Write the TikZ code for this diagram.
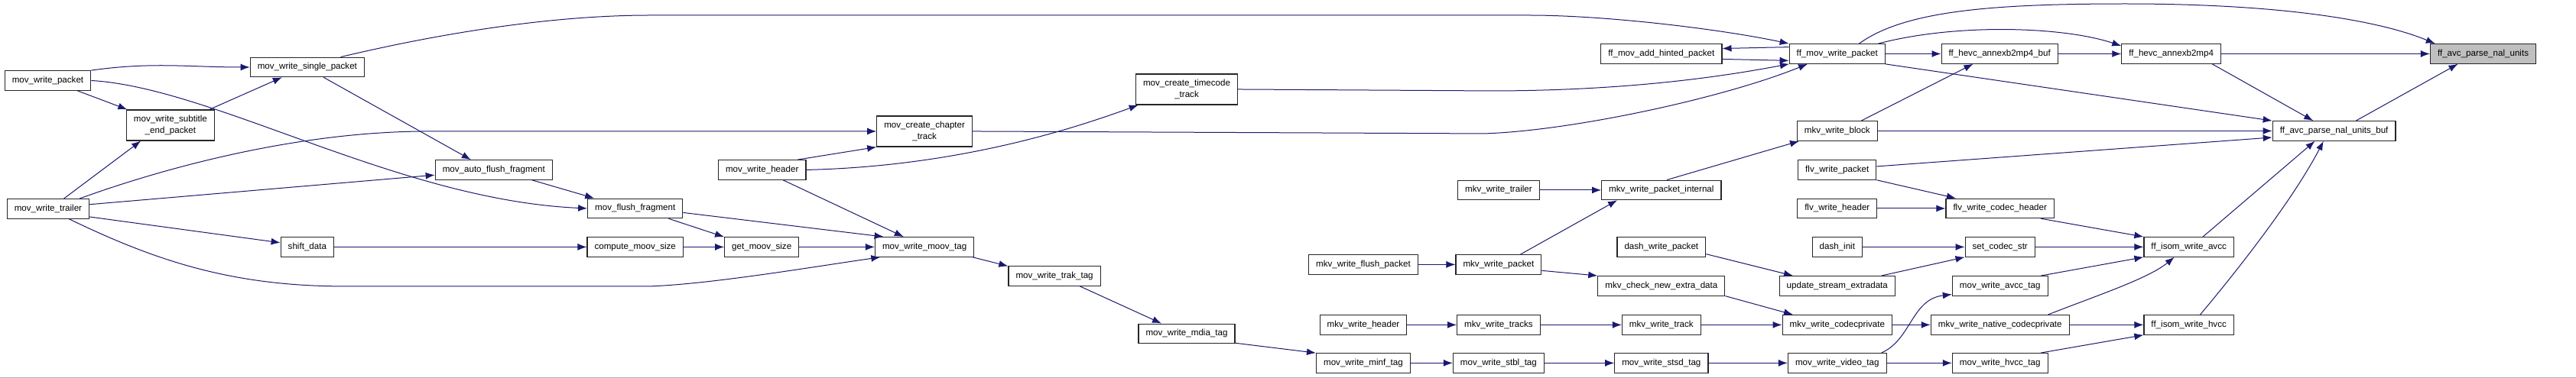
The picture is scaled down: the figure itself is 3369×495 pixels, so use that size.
\documentclass[tikz,border=0pt]{standalone}
\usepackage{fontspec}
\setmainfont{Liberation Sans}
\usepackage{xcolor}
\usepackage{tikz}
\usetikzlibrary{arrows.meta}
\definecolor{edgeblue}{RGB}{25,25,112}
\definecolor{nodegray}{RGB}{191,191,191}

\begin{document}
\begin{tikzpicture}[
  x=1pt,y=-1pt,
  box/.style={draw=black!85,line width=1.2pt,fill=white,align=center,inner xsep=9.5pt,inner ysep=0pt,minimum height=25.5pt,font=\fontsize{11.6}{14.5}\selectfont},
  boxhi/.style={box,fill=nodegray},
  arrow/.style={-{Latex[length=12pt,width=9pt]},draw=edgeblue,line width=1pt}
]
\fill[white] (0,0) rectangle (3369,495);
\draw[black!30,line width=1pt] (0,494.5) -- (3369,494.5);

\node[box] (mwpacket) at (62,105.5) {mov\_write\_packet};
\node[box] (mwsingle) at (401.5,88) {mov\_write\_single\_packet};
\node[box,minimum height=40pt] (mwsubtitle) at (222.5,164) {mov\_write\_subtitle\\\_end\_packet};
\node[box] (mwtrailer) at (62.5,273.5) {mov\_write\_trailer};
\node[box] (shiftdata) at (401.5,323.5) {shift\_data};
\node[box] (autoflush) at (645.5,222.5) {mov\_auto\_flush\_fragment};
\node[box] (flushfrag) at (830.5,273) {mov\_flush\_fragment};
\node[box] (computemoov) at (830.5,323.5) {compute\_moov\_size};
\node[box] (getmoov) at (996,323.5) {get\_moov\_size};
\node[box] (mwheader) at (996.5,222.5) {mov\_write\_header};
\node[box,minimum height=40pt] (chapter) at (1209,172) {mov\_create\_chapter\\\_track};
\node[box] (moovtag) at (1209,323.5) {mov\_write\_moov\_tag};
\node[box] (trak) at (1379,361.5) {mov\_write\_trak\_tag};
\node[box] (mdia) at (1552,437) {mov\_write\_mdia\_tag};
\node[box,minimum height=40pt] (timecode) at (1552,117) {mov\_create\_timecode\\\_track};
\node[box] (minf) at (1783,475.5) {mov\_write\_minf\_tag};
\node[box] (stbl) at (1960,475.5) {mov\_write\_stbl\_tag};
\node[box] (stsd) at (2173,475.5) {mov\_write\_stsd\_tag};
\node[box] (mkvheader) at (1783,425.5) {mkv\_write\_header};
\node[box] (mkvtracks) at (1960,425.5) {mkv\_write\_tracks};
\node[box] (mkvtrack) at (2173,425.5) {mkv\_write\_track};
\node[box] (mkvflush) at (1783,346.5) {mkv\_write\_flush\_packet};
\node[box] (mkvpacket) at (1960,346.5) {mkv\_write\_packet};
\node[box] (mkvcheck) at (2173,374.5) {mkv\_check\_new\_extra\_data};
\node[box] (dashpacket) at (2173,323.5) {dash\_write\_packet};
\node[box] (mkvtrailer) at (1960,249) {mkv\_write\_trailer};
\node[box] (mkvinternal) at (2173,249) {mkv\_write\_packet\_internal};
\node[box] (hinted) at (2173,70.5) {ff\_mov\_add\_hinted\_packet};
\node[box] (ffmovwrite) at (2403,70.5) {ff\_mov\_write\_packet};
\node[box] (mkvblock) at (2403,171.5) {mkv\_write\_block};
\node[box] (flvpacket) at (2403,222.5) {flv\_write\_packet};
\node[box] (flvheader) at (2403,273) {flv\_write\_header};
\node[box] (dashinit) at (2403,323.5) {dash\_init};
\node[box] (updateextra) at (2403,374.5) {update\_stream\_extradata};
\node[box] (mkvcodecpriv) at (2403,425.5) {mkv\_write\_codecprivate};
\node[box] (videotag) at (2403,475.5) {mov\_write\_video\_tag};
\node[box] (hevcbuf) at (2615.5,70.5) {ff\_hevc\_annexb2mp4\_buf};
\node[box] (flvcodec) at (2616,273) {flv\_write\_codec\_header};
\node[box] (setcodec) at (2616,323.5) {set\_codec\_str};
\node[box] (avcctag) at (2616,374.5) {mov\_write\_avcc\_tag};
\node[box] (nativecodec) at (2616,425.5) {mkv\_write\_native\_codecprivate};
\node[box] (hvcctag) at (2616,475.5) {mov\_write\_hvcc\_tag};
\node[box] (hevc) at (2840,70.5) {ff\_hevc\_annexb2mp4};
\node[box] (avcbuf) at (3053,171.5) {ff\_avc\_parse\_nal\_units\_buf};
\node[box] (isomavcc) at (2863,323.5) {ff\_isom\_write\_avcc};
\node[box] (isomhvcc) at (2863,425.5) {ff\_isom\_write\_hvcc};
\node[boxhi] (target) at (3248,70.5) {ff\_avc\_parse\_nal\_units};

\draw[arrow] (mwpacket.north east) to[out=8,in=180] (mwsingle.west);
\draw[arrow] (mwpacket.-19) -- (mwsubtitle.160);
\draw[arrow] (mwpacket.east) .. controls (280,115) and (520,262) .. (flushfrag.west);
\draw[arrow] (mwsubtitle.22) -- (mwsingle.-158);
\draw[arrow] (mwtrailer.33) -- (mwsubtitle.-152);
\draw[arrow] (mwtrailer.18) .. controls (200,225) and (380,172) .. (560,172) -- (chapter.west);
\draw[arrow] (mwtrailer.6) -- (autoflush.185);
\draw[arrow] (mwtrailer.-11) -- (shiftdata.171);
\draw[arrow] (mwtrailer.-26) .. controls (200,340) and (300,375) .. (450,375) -- (850,375) .. controls (930,372) and (1060,350) .. (moovtag.-167);
\draw[arrow] (shiftdata) -- (computemoov);
\draw[arrow] (computemoov) -- (getmoov);
\draw[arrow] (getmoov) -- (moovtag);
\draw[arrow] (flushfrag.-17) -- (getmoov.165);
\draw[arrow] (flushfrag.-5) -- (moovtag.166);
\draw[arrow] (autoflush.-15) -- (flushfrag.166);
\draw[arrow] (mwsingle.-32) -- (autoflush.156);
\draw[arrow] (mwheader.-26) -- (moovtag.154);
\draw[arrow] (mwheader.16) -- (chapter.south west);
\draw[arrow] (mwheader.east) .. controls (1250,218) and (1400,170) .. (timecode.-162);
\draw[arrow] (chapter.east) -- (1940,175) .. controls (2050,172) and (2250,130) .. (ffmovwrite.-161);
\draw[arrow] (timecode.east) -- (1950,119) .. controls (2150,119) and (2280,95) .. (ffmovwrite.-168);
\draw[arrow] (mwsingle.17) .. controls (540,52) and (700,20) .. (850,20) -- (2000,20) .. controls (2100,20) and (2250,38) .. (ffmovwrite.north west);
\draw[arrow] (ffmovwrite.172) -- (hinted.5);
\draw[arrow] (hinted.-5) -- (ffmovwrite.-172);
\draw[arrow] (ffmovwrite) -- (hevcbuf);
\draw[arrow] (ffmovwrite.14) .. controls (2560,30) and (2700,35) .. (hevc.171);
\draw[arrow] (ffmovwrite.25) .. controls (2490,15) and (2600,5) .. (2780,5) .. controls (3000,5) and (3120,30) .. (target.168);
\draw[arrow] (ffmovwrite.-12) -- (avcbuf.north west);
\draw[arrow] (hevcbuf) -- (hevc);
\draw[arrow] (mkvblock.23) -- (hevcbuf.-159);
\draw[arrow] (mkvblock) -- (avcbuf);
\draw[arrow] (flvpacket.5) -- (avcbuf.-174);
\draw[arrow] (flvpacket.south east) -- (flvcodec.167);
\draw[arrow] (hevc) -- (target);
\draw[arrow] (hevc.-14) -- (avcbuf.154);
\draw[arrow] (avcbuf.25) -- (target.-158);
\draw[arrow] (isomavcc.36) -- (avcbuf.-152);
\draw[arrow] (isomhvcc.42) .. controls (2930,350) and (3000,260) .. (avcbuf.-136);
\draw[arrow] (mkvtrailer) -- (mkvinternal);
\draw[arrow] (mkvpacket.25) -- (mkvinternal.-167);
\draw[arrow] (mkvinternal.62) -- (mkvblock.-165);
\draw[arrow] (mkvflush) -- (mkvpacket);
\draw[arrow] (mkvpacket.-8) -- (mkvcheck.north west);
\draw[arrow] (dashpacket.-9) -- (updateextra.167);
\draw[arrow] (mkvcheck.-9) -- (mkvcodecpriv.167);
\draw[arrow] (mkvheader) -- (mkvtracks);
\draw[arrow] (mkvtracks) -- (mkvtrack);
\draw[arrow] (mkvtrack) -- (mkvcodecpriv);
\draw[arrow] (moovtag.-12) -- (trak.168);
\draw[arrow] (trak.-22) -- (mdia.158);
\draw[arrow] (mdia.-11) -- (minf.168);
\draw[arrow] (minf) -- (stbl);
\draw[arrow] (stbl) -- (stsd);
\draw[arrow] (stsd) -- (videotag);
\draw[arrow] (flvheader) -- (flvcodec);
\draw[arrow] (dashinit) -- (setcodec);
\draw[arrow] (updateextra.13) -- (setcodec.south west);
\draw[arrow] (mkvcodecpriv) -- (nativecodec);
\draw[arrow] (videotag.13) .. controls (2500,445) and (2500,392) .. (avcctag.-170);
\draw[arrow] (videotag) -- (hvcctag);
\draw[arrow] (flvcodec.-14) -- (isomavcc.north west);
\draw[arrow] (setcodec) -- (isomavcc);
\draw[arrow] (avcctag.14) -- (isomavcc.south west);
\draw[arrow] (nativecodec.12) .. controls (2740,388) and (2810,365) .. (isomavcc.-145);
\draw[arrow] (nativecodec) -- (isomhvcc);
\draw[arrow] (hvcctag.14) -- (isomhvcc.south west);
\end{tikzpicture}
\end{document}
